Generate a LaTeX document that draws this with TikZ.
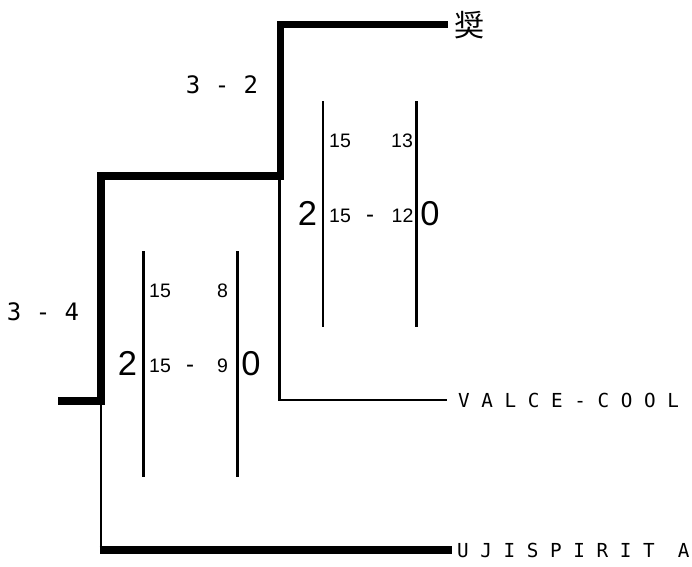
\documentclass[tikz,border=0pt]{standalone}
\usepackage{fontspec}
\setmainfont{Liberation Sans}
\newfontfamily\labelmono{DejaVu Sans Mono}
\newfontfamily\cjkfont{Noto Sans CJK JP}
\begin{document}
\begin{tikzpicture}[x=1pt,y=-1pt,
  thickline/.style={line width=7.5pt, line join=miter},
  thinline/.style={line width=2.8pt},
  barline/.style={line width=2.8pt},
  bigdigit/.style={font=\fontsize{34.5}{34.5}\selectfont, inner sep=0pt, anchor=base},
  smalldigit/.style={font=\fontsize{19.5}{19.5}\selectfont, inner sep=0pt, anchor=base},
  dashmark/.style={font=\fontsize{24}{24}\selectfont, inner sep=0pt, anchor=base},
  leaflabel/.style={font=\labelmono\fontsize{19.3}{19.3}\selectfont, inner sep=0pt, anchor=base west, text height=14pt, text depth=0pt},
  scorelabel/.style={font=\labelmono\fontsize{24}{24}\selectfont, inner sep=0pt, anchor=base},
  cjklabel/.style={font=\cjkfont\fontsize{30}{30}\selectfont, inner sep=0pt, anchor=base west}]
\useasboundingbox (0,0) rectangle (692,566);

% leaves
\node[cjklabel] (leafA) at (454,36) {奨};
\node[leaflabel] (leafB) at (458,407) {V~A~L~C~E~-~C~O~O~L};
\node[leaflabel] (leafC) at (457,557) {U~J~I~S~P~I~R~I~T~~A};

% junctions
\coordinate (root) at (58,401);
\coordinate (ja) at (101,401);
\coordinate (jb) at (280.5,176);
\coordinate (jbthin) at (279.5,176);

% bracket lines
\draw[thickline, shorten >=6pt] (root) -- (ja) |- (jb) |- (leafA.west);
\draw[thinline, shorten >=11pt] (jbthin) |- (leafB.west);
\draw[thinline] (ja) -- (ja |- leafC.west);
\draw[thickline, shorten >=5pt, shorten <=-1.5pt] (ja |- leafC.west) -- (leafC.west);

% score labels
\node[scorelabel] (scoreA) at (222,93) {3~-~2};
\node[scorelabel] (scoreB) at (43,320) {3~-~4};

% box 1
\draw[barline] (323,101) -- (323,327);
\draw[barline] (416.5,101) -- (416.5,327);
\node[bigdigit] (b1l) at (307.5,225) {2};
\node[bigdigit] (b1r) at (430,225) {0};
\node[smalldigit] (b1a) at (340,147.5) {15};
\node[smalldigit] (b1b) at (402,147.5) {13};
\node[smalldigit] (b1c) at (340,222) {15};
\node[dashmark] (b1d) at (370,222) {-};
\node[smalldigit] (b1e) at (402.5,222) {12};

% box 2
\draw[barline] (143.5,251) -- (143.5,477);
\draw[barline] (237.5,251) -- (237.5,477);
\node[bigdigit] (b2l) at (127.5,375) {2};
\node[bigdigit] (b2r) at (251,375) {0};
\node[smalldigit] (b2a) at (160,297.5) {15};
\node[smalldigit] (b2b) at (222.5,297.5) {8};
\node[smalldigit] (b2c) at (160,372) {15};
\node[dashmark] (b2d) at (190,372) {-};
\node[smalldigit] (b2e) at (222.5,372) {9};
\end{tikzpicture}
\end{document}
